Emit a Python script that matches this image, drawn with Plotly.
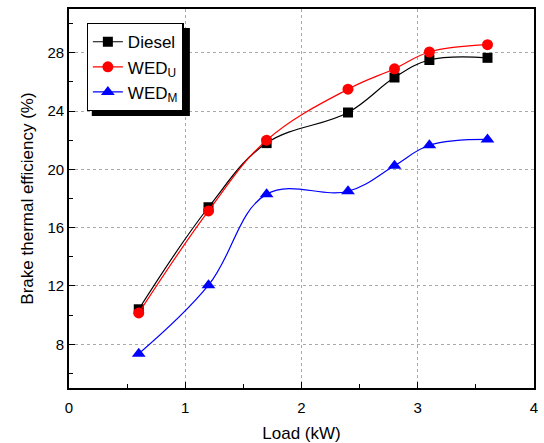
import plotly.graph_objects as go

load = [0.6, 1.2, 1.7, 2.4, 2.8, 3.1, 3.6]
diesel = [10.4, 17.4, 21.8, 23.9, 26.3, 27.5, 27.65]
wed_u = [10.15, 17.15, 22.0, 25.5, 26.9, 28.05, 28.55]
wed_m = [7.35, 12.05, 18.3, 18.5, 20.25, 21.65, 22.05]

series = [
    ("Diesel", diesel, "black", "square", 10),
    ("WED<sub>U</sub>", wed_u, "red", "circle", 11),
    ("WED<sub>M</sub>", wed_m, "blue", "triangle-up", 12),
]

fig = go.Figure()
for name, ys, color, sym, sz in series:
    fig.add_trace(go.Scatter(
        x=load, y=ys, name=name, mode="lines+markers",
        line=dict(color=color, width=1.2, shape="spline", smoothing=1.1),
        marker=dict(color=color, symbol=sym, size=sz, line=dict(width=0)),
    ))

font = "Liberation Sans, Arial, sans-serif"
axis_common = dict(
    showline=True, linecolor="black", linewidth=1.6, mirror=True,
    ticks="inside", ticklen=6, tickcolor="black", tickwidth=1.2,
    showgrid=True, gridcolor="#aaaaaa", griddash="dot", gridwidth=1,
    zeroline=False, automargin=False,
    tickfont=dict(family=font, size=15, color="black"),
)

fig.update_xaxes(
    range=[0, 4], tick0=0, dtick=1, ticklabelstandoff=5,
    minor=dict(ticks="inside", dtick=0.5, ticklen=4, tickcolor="black", showgrid=False),
    title=dict(text="Load (kW)", font=dict(family=font, size=17, color="black"), standoff=20),
    **axis_common,
)
fig.update_yaxes(
    range=[5, 31], tick0=0, dtick=4,
    minor=dict(ticks="inside", dtick=2, ticklen=4, tickcolor="black", showgrid=False),
    title=dict(text="Brake thermal efficiency (%)", font=dict(family=font, size=17, color="black"), standoff=10),
    **axis_common,
)

fig.add_shape(type="rect", xref="paper", yref="paper",
              x0=0.049, x1=0.26, y0=0.718, y1=0.95,
              fillcolor="black", line=dict(width=0), layer="above")

fig.update_layout(
    width=544, height=443,
    margin=dict(l=69, r=10, t=9, b=55),
    plot_bgcolor="white", paper_bgcolor="white",
    showlegend=True,
    legend=dict(x=0.038, y=0.963, xanchor="left", yanchor="top",
                bgcolor="white", bordercolor="black", borderwidth=1.2,
                font=dict(family=font, size=17, color="black"),
                tracegroupgap=0, itemwidth=30),
)

fig.write_html("out.html", config={"displayModeBar": False},
               post_script="document.body.style.margin='0';document.body.style.overflow='hidden';")
